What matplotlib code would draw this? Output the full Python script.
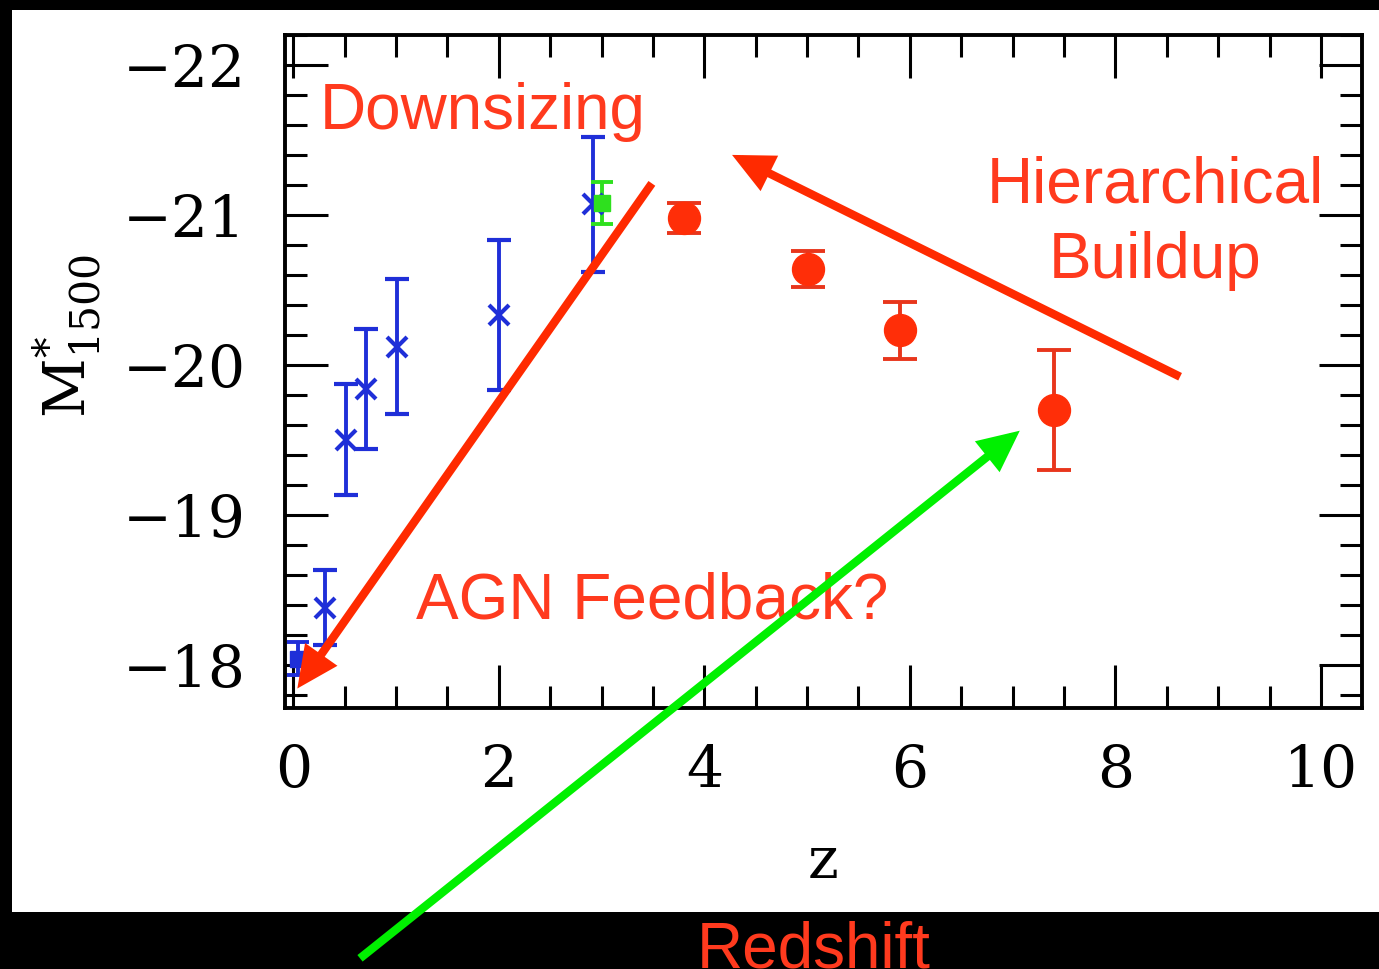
import matplotlib
matplotlib.use("Agg")
import matplotlib.pyplot as plt
from matplotlib.patches import Rectangle
from matplotlib.ticker import MultipleLocator

# Characteristic UV magnitude M*_1500 versus redshift
sq_z = [0.05]
sq_m = [-18.04]
sq_err = [0.11]

cross_z = [0.31, 0.51, 0.71, 1.01, 2.00, 2.92]
cross_m = [-18.38, -19.50, -19.84, -20.12, -20.33, -21.07]
cross_err = [0.25, 0.37, 0.40, 0.45, 0.50, 0.45]

green_z = [3.0]
green_m = [-21.08]
green_err = [0.14]

red_z = [3.80, 5.01, 5.90, 7.40]
red_m = [-20.98, -20.64, -20.23, -19.70]
red_err = [0.10, 0.12, 0.19, 0.40]

xticks = [0, 2, 4, 6, 8, 10]
yticks = [-22, -21, -20, -19, -18]

# annotation arrows: (tail, head) in (z, M)
arrow_downsizing = ((3.49, -21.21), (0.04, -17.84))
arrow_hierarchical = ((8.63, -19.92), (4.27, -21.40))
arrow_redshift = ((0.65, -16.04), (7.07, -19.56))

BLUE = "#1f2fd8"
GREEN = "#2ee01e"
RED = "#ff2e08"
RED_BAR = "#e8361c"
ARROW_RED = "#ff2a00"
ARROW_GREEN = "#00f000"
TEXT_RED = "#ff3a1e"

plt.rcParams["mathtext.fontset"] = "dejavuserif"

fig = plt.figure(figsize=(13.79, 9.69), dpi=100, facecolor="black")
fig.patches.append(Rectangle((12 / 1379, 57 / 969), 1 - 12 / 1379, 902 / 969,
                             transform=fig.transFigure, facecolor="white",
                             edgecolor="none", zorder=-5))

ax = fig.add_axes([285 / 1379, 1 - 708 / 969, 1077 / 1379, 673 / 969])
ax.set_facecolor("white")

ax.errorbar(sq_z, sq_m, yerr=sq_err, fmt="s", color=BLUE, ms=12,
            elinewidth=2.8, capsize=8, capthick=2.8)
ax.errorbar(cross_z, cross_m, yerr=cross_err, fmt="x", color=BLUE, ms=14,
            mew=3.0, elinewidth=2.8, capsize=8.5, capthick=2.8)
ax.errorbar(green_z, green_m, yerr=green_err, fmt="s", color=GREEN, ms=12,
            elinewidth=2.8, capsize=8, capthick=2.8)
ax.errorbar(red_z, red_m, yerr=red_err, fmt="o", color=RED_BAR, mfc=RED,
            mec=RED, ms=23, elinewidth=2.8, capsize=12, capthick=2.8)

ax.set_xlim(-0.08, 10.40)
ax.set_ylim(-17.71, -22.2)

ax.set_xticks(xticks)
ax.set_yticks(yticks)
ax.xaxis.set_minor_locator(MultipleLocator(0.5))
ax.yaxis.set_minor_locator(MultipleLocator(0.2))

tick_font = {"family": "DejaVu Serif", "size": 42}
ax.tick_params(which="both", direction="in", top=True, right=True,
               width=2.2, color="black")
ax.tick_params(which="major", length=31)
ax.tick_params(which="minor", length=16)
ax.tick_params(axis="x", which="major", pad=25)
ax.tick_params(axis="y", which="major", pad=28)
for lab in ax.get_xticklabels() + ax.get_yticklabels():
    lab.set_fontfamily("DejaVu Serif")
    lab.set_fontsize(42)
for sp in ax.spines.values():
    sp.set_linewidth(2.8)

ax.set_xlabel("z", fontdict=tick_font, ha="center", va="baseline")
ax.xaxis.set_label_coords(0.5, -0.2526)
ax.set_ylabel(r"$\mathrm{M}^{*}_{1500}$", fontdict=tick_font,
              ha="center", va="center", rotation=90, rotation_mode="default")
ax.yaxis.set_label_coords(-0.2024, 0.5527)

label_font = {"family": "Liberation Sans", "size": 46, "color": TEXT_RED}
ax.text(0.26, -21.57, "Downsizing", ha="left", va="baseline",
        fontdict=label_font, clip_on=False, zorder=5)
ax.text(8.385, -21.08, "Hierarchical", ha="center", va="baseline",
        fontdict=label_font, clip_on=False, zorder=5)
ax.text(8.385, -20.58, "Buildup", ha="center", va="baseline",
        fontdict=label_font, clip_on=False, zorder=5)
ax.text(1.19, -18.31, "AGN Feedback?", ha="left", va="baseline",
        fontdict=label_font, clip_on=False, zorder=5)
fig.text(814 / 1379, 2 / 969, "Redshift", ha="center", va="baseline",
         fontdict=label_font)

arrow_style = "-|>,head_length=2.0,head_width=0.95"
for (tail, head), col in [(arrow_downsizing, ARROW_RED),
                          (arrow_hierarchical, ARROW_RED),
                          (arrow_redshift, ARROW_GREEN)]:
    ax.annotate("", xy=head, xytext=tail, xycoords="data",
                annotation_clip=False, zorder=10,
                arrowprops=dict(arrowstyle=arrow_style, color=col, lw=6,
                                mutation_scale=10, shrinkA=0, shrinkB=0,
                                joinstyle="miter", capstyle="butt"))

fig.savefig("out.png", dpi=100, facecolor=fig.get_facecolor())
